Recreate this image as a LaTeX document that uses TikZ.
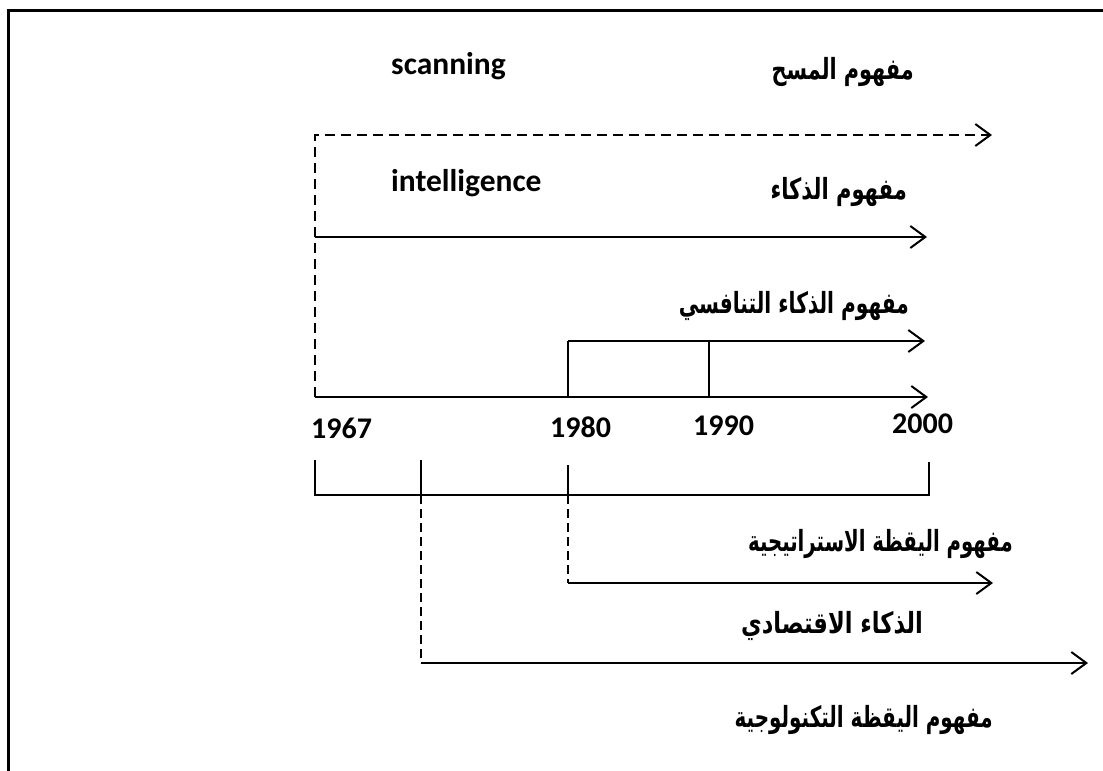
\documentclass[tikz,border=0pt]{standalone}
\usepackage{graphicx}
\usepackage{fontspec}
\newfontfamily\lat{Carlito}
\newfontfamily\arabicfont[Script=Arabic]{DejaVu Sans}
\TeXXeTstate=1
\usetikzlibrary{arrows.meta}
\begin{document}
\begin{tikzpicture}[x=1pt,y=-1pt,
  thickline/.style={line width=2pt},
  thinline/.style={line width=1.4pt},
  arr/.style={thickline,-{Straight Barb[length=15pt,width=22pt,line width=2pt]}},
  dasharr/.style={arr,dash pattern=on 10pt off 6pt},
  dashthin/.style={thinline,dash pattern=on 9pt off 5pt},
  frameline/.style={line width=3pt},
  entxt/.style={inner sep=0pt,font=\lat\bfseries\fontsize{31.5}{36}\selectfont},
  yeartxt/.style={inner sep=0pt,font=\lat\bfseries\fontsize{30}{34}\selectfont},
  artxt/.style={inner sep=0pt,anchor=east,font=\arabicfont\bfseries\fontsize{26}{30}\selectfont}]
\useasboundingbox (0,0) rectangle (1103,771);
% frame
\coordinate (fbl) at (8,771);
\coordinate (ftl) at (8,10);
\coordinate (ftr) at (1103,10);
\draw[frameline] (fbl) -- (ftl) -- (ftr);
% upper coordinates
\coordinate (ax0) at (315,397);
\coordinate (axE) at (928,397);
\coordinate (scE) at (992,135);
\coordinate (in0) at (315,237);
\coordinate (inE) at (927,237);
\coordinate (c80) at (568,397);
\coordinate (c80t) at (568,341);
\coordinate (coE) at (925,341);
\coordinate (c90) at (709,397);
\coordinate (c90t) at (709,341);
% arrows
\draw[dasharr] (ax0) |- (scE);
\draw[arr] (in0) -- (inE);
\draw[thinline] (c80) -- (c80t);
\draw[thinline] (c90) -- (c90t);
\draw[arr] (c80t) -- (coE);
\draw[arr] (ax0) -- (axE);
% bracket
\coordinate (b0t) at (315,460);
\coordinate (b0) at (315,495);
\coordinate (bE) at (929,495);
\coordinate (bEt) at (929,462);
\coordinate (b1t) at (421,460);
\coordinate (b1) at (421,495);
\coordinate (b2t) at (568,465);
\coordinate (b2) at (568,495);
\draw[thinline] (b0t) -- (b0) -- (bE) -- (bEt);
\draw[thinline] (b1t) -- (b1);
\draw[thinline] (b2t) -- (b2);
\coordinate (st0) at (568,583);
\coordinate (stE) at (993,583);
\coordinate (ec0) at (421,663);
\coordinate (ecE) at (1088,663);
\draw[dashthin] (b2) -- (st0);
\draw[arr] (st0) -- (stE);
\draw[dashthin] (b1) -- (ec0);
\draw[arr] (ec0) -- (ecE);
% english labels
\node[entxt,anchor=base west] (scan) at (391,74) {scanning};
\node[entxt,anchor=base west] (intel) at (391,191) {intelligence};
% years
\node[yeartxt,anchor=base west] (y67) at (311,438) {1967};
\node[yeartxt,anchor=base west] (y80) at (550,437) {1980};
\node[yeartxt,anchor=base west] (y90) at (693,435) {1990};
\node[yeartxt,anchor=base west] (y00) at (892,433) {2000};
% arabic labels
\node[artxt] (lmas) at (914,72) {\scalebox{0.80}[1.12]{\beginR مفهوم المسح\endR}};
\node[artxt] (ldhk) at (907,192) {\scalebox{0.81}[1.12]{\beginR مفهوم الذكاء\endR}};
\node[artxt] (ltan) at (909,306) {\scalebox{0.775}[1.12]{\beginR مفهوم الذكاء التنافسي\endR}};
\node[artxt] (lstr) at (1013,544) {\scalebox{0.757}[1.12]{\beginR مفهوم اليقظة الاستراتيجية\endR}};
\node[artxt] (leco) at (923,626) {\scalebox{0.868}[1.12]{\beginR الذكاء الاقتصادي\endR}};
\node[artxt] (ltec) at (993,720) {\scalebox{0.766}[1.12]{\beginR مفهوم اليقظة التكنولوجية\endR}};
\end{tikzpicture}
\end{document}
